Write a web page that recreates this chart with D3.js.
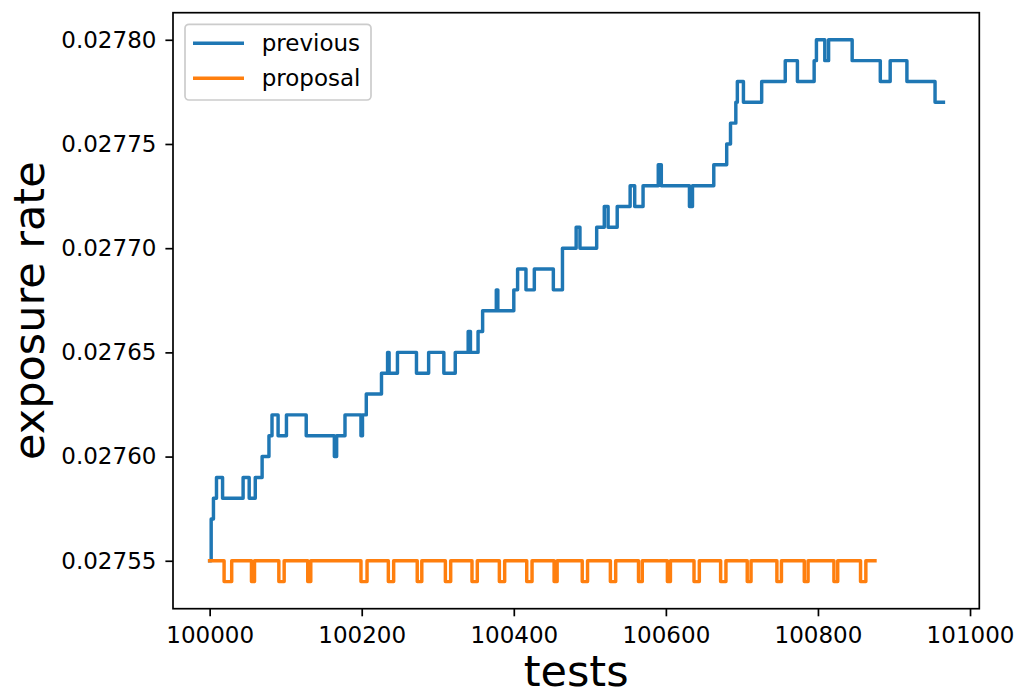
<!DOCTYPE html>
<html><head><meta charset="utf-8">
<script src="https://cdn.jsdelivr.net/npm/d3@7"></script>
<style>
body{margin:0;background:#fff;}
text{font-family:"DejaVu Sans",sans-serif;fill:#000;}
</style></head>
<body><svg id="c" width="1016" height="690"></svg>
<script>
// previous series: test index offsets where the rate changes, and the rate from that point on
const prevOffsets = [0,2,5,9,17,44,52,60,69,78,82,90,101,127,164,167,178,199,201,206,226,234,236,247,272,288,308,323,340,343,353,359,377,379,400,405,416,427,452,464,482,487,509,519,524,536,553,559,570,590,594,631,635,663,680,685,692,694,702,726,757,773,795,798,809,814,845,882,895,917,954,965];
const prevRates = [0.02755,0.02757,0.02758,0.02759,0.02758,0.02759,0.02758,0.02759,0.02760,0.02761,0.02762,0.02761,0.02762,0.02761,0.02760,0.02761,0.02762,0.02761,0.02762,0.02763,0.02764,0.02765,0.02764,0.02765,0.02764,0.02765,0.02764,0.02765,0.02766,0.02765,0.02766,0.02767,0.02768,0.02767,0.02768,0.02769,0.02768,0.02769,0.02768,0.02770,0.02771,0.02770,0.02771,0.02772,0.02771,0.02772,0.02773,0.02772,0.02773,0.02774,0.02773,0.02772,0.02773,0.02774,0.02775,0.02776,0.02777,0.02778,0.02777,0.02778,0.02779,0.02778,0.02779,0.02780,0.02779,0.02780,0.02779,0.02778,0.02779,0.02778,0.02777,0.02777];
// proposal series
const propOffsets = [0,19,29,55,59,91,98,129,133,199,207,235,242,273,279,310,317,345,352,381,388,417,424,453,457,490,497,527,534,564,569,602,606,637,644,672,679,707,712,746,752,782,787,821,826,856,863,875];
const propRates = [0.02755,0.02754,0.02755,0.02754,0.02755,0.02754,0.02755,0.02754,0.02755,0.02754,0.02755,0.02754,0.02755,0.02754,0.02755,0.02754,0.02755,0.02754,0.02755,0.02754,0.02755,0.02754,0.02755,0.02754,0.02755,0.02754,0.02755,0.02754,0.02755,0.02754,0.02755,0.02754,0.02755,0.02754,0.02755,0.02754,0.02755,0.02754,0.02755,0.02754,0.02755,0.02754,0.02755,0.02754,0.02755,0.02754,0.02755,0.02755];
const startTest = 100000;
const xTicks = [100000,100200,100400,100600,100800,101000];
const yTicks = [0.02755,0.02760,0.02765,0.02770,0.02775,0.02780];
const seriesNames = ["previous","proposal"];
const seriesColors = ["#1f77b4","#ff7f0e"];

const svg = d3.select("#c");
const L=173, R=979.3, T=12.7, B=608.7;
const x = d3.scaleLinear().domain([99951.8,101012.2]).range([L,R]);
const y = d3.scaleLinear().domain([0.027527,0.027813]).range([B,T]);
const fs = 23;

const series = [
  prevOffsets.map((o,i)=>({t:startTest+o,v:prevRates[i]})),
  propOffsets.map((o,i)=>({t:startTest+o,v:propRates[i]}))
];
const line = d3.line().x(d=>x(d.t)).y(d=>y(d.v)).curve(d3.curveStepAfter);
const g = svg.append("g");
series.forEach((s,i)=>{
  g.append("path").attr("d",line(s)).attr("fill","none")
   .attr("stroke",seriesColors[i]).attr("stroke-width",3.45)
   .attr("stroke-linejoin","round").attr("stroke-linecap","square");
});

// axes
const xAxis = svg.append("g").attr("transform",`translate(0,${B})`)
  .call(d3.axisBottom(x).tickValues(xTicks).tickFormat(d3.format("d")).tickSizeOuter(0).tickSize(7.6).tickPadding(10));
const yAxis = svg.append("g").attr("transform",`translate(${L},0)`)
  .call(d3.axisLeft(y).tickValues(yTicks).tickFormat(d3.format(".5f")).tickSizeOuter(0).tickSize(7.6).tickPadding(9));
[xAxis,yAxis].forEach(a=>{
  a.select(".domain").remove();
  a.selectAll("line").attr("stroke","#000").attr("stroke-width",1.7);
  a.selectAll("text").attr("font-size",fs).attr("font-family","DejaVu Sans").attr("fill","#000");
});
svg.append("rect").attr("x",L).attr("y",T).attr("width",R-L).attr("height",B-T)
  .attr("fill","none").attr("stroke","#000").attr("stroke-width",1.7);

// axis labels
svg.append("text").attr("x",(L+R)/2).attr("y",686).attr("text-anchor","middle")
  .attr("font-size",43).text("tests");
svg.append("text").attr("transform",`translate(44,${(T+B)/2}) rotate(-90)`).attr("text-anchor","middle")
  .attr("font-size",43).text("exposure rate");

// legend
const lg = svg.append("g");
lg.append("rect").attr("x",185).attr("y",24.3).attr("width",186).attr("height",75.7)
  .attr("rx",4).attr("fill","#fff").attr("fill-opacity",0.8).attr("stroke","#cccccc").attr("stroke-width",1.7);
seriesNames.forEach((n,i)=>{
  const yy = 43.3 + i*35;
  lg.append("line").attr("x1",193).attr("x2",244).attr("y1",yy).attr("y2",yy)
    .attr("stroke",seriesColors[i]).attr("stroke-width",3.45);
  lg.append("text").attr("x",261.7).attr("y",yy).attr("dy","0.35em").attr("font-size",fs).text(n);
});
</script></body></html>
